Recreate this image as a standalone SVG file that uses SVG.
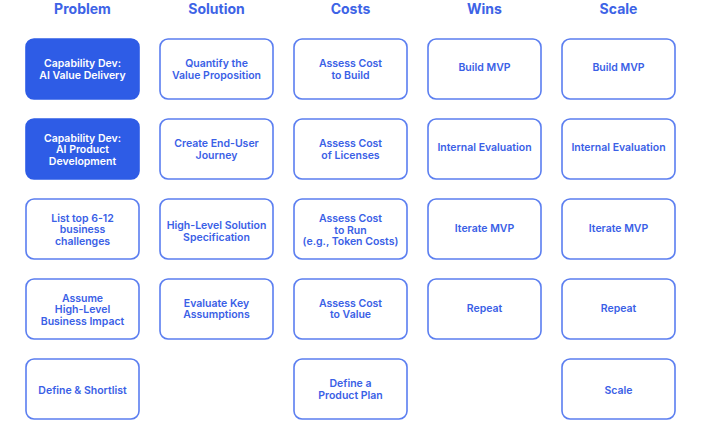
<svg xmlns="http://www.w3.org/2000/svg" width="701" height="445" viewBox="0 0 701 445">
<style>
.bg{fill:#ffffff}
.hd{font-family:Inter,"Liberation Sans",sans-serif;font-weight:700;font-size:14px;fill:#3d63e6;text-anchor:middle}
.box{fill:#ffffff;stroke:#5b7ef0;stroke-width:1.6}
.fill{fill:#2e5ce6;stroke:#2e5ce6;stroke-width:1.6}
.t{font-family:Inter,"Liberation Sans",sans-serif;font-weight:600;font-size:10.5px;fill:#3a60e6;text-anchor:middle}
.tw{font-family:Inter,"Liberation Sans",sans-serif;font-weight:600;font-size:10.5px;fill:#ffffff;text-anchor:middle}
</style>
<rect class="bg" x="0" y="0" width="701" height="445"/>
<g id="headers">
<text class="hd" x="82.5" y="13.5">Problem</text>
<text class="hd" x="216.5" y="13.5">Solution</text>
<text class="hd" x="350.5" y="13.5">Costs</text>
<text class="hd" x="484.5" y="13.5">Wins</text>
<text class="hd" x="618.5" y="13.5">Scale</text>
</g>
<g id="connectors"></g>
<!-- Problem -->
<g id="p1"><rect class="fill" x="26" y="39" width="113" height="60" rx="8"/><text class="tw" x="82.5" y="67">Capability Dev:<tspan x="82.5" dy="11.7">AI Value Delivery</tspan></text></g>
<g id="p2"><rect class="fill" x="26" y="119" width="113" height="60" rx="8"/><text class="tw" x="82.5" y="141.5">Capability Dev:<tspan x="82.5" dy="11.7">AI Product</tspan><tspan x="82.5" dy="11.7">Development</tspan></text></g>
<g id="p3"><rect class="box" x="26" y="199" width="113" height="60" rx="8"/><text class="t" x="82.5" y="221.5">List top 6-12<tspan x="82.5" dy="11.7">business</tspan><tspan x="82.5" dy="11.7">challenges</tspan></text></g>
<g id="p4"><rect class="box" x="26" y="279" width="113" height="60" rx="8"/><text class="t" x="82.5" y="301.5">Assume<tspan x="82.5" dy="11.7">High-Level</tspan><tspan x="82.5" dy="11.7">Business Impact</tspan></text></g>
<g id="p5"><rect class="box" x="26" y="359" width="113" height="60" rx="8"/><text class="t" x="82.5" y="393.5">Define &amp; Shortlist</text></g>
<!-- Solution -->
<g id="s1"><rect class="box" x="160" y="39" width="113" height="60" rx="8"/><text class="t" x="216.5" y="67">Quantify the<tspan x="216.5" dy="11.7">Value Proposition</tspan></text></g>
<g id="s2"><rect class="box" x="160" y="119" width="113" height="60" rx="8"/><text class="t" x="216.5" y="147">Create End-User<tspan x="216.5" dy="11.7">Journey</tspan></text></g>
<g id="s3"><rect class="box" x="160" y="199" width="113" height="60" rx="8"/><text class="t" x="216.5" y="229">High-Level Solution<tspan x="216.5" dy="11.7">Specification</tspan></text></g>
<g id="s4"><rect class="box" x="160" y="279" width="113" height="60" rx="8"/><text class="t" x="216.5" y="306.5">Evaluate Key<tspan x="216.5" dy="11.7">Assumptions</tspan></text></g>
<!-- Costs -->
<g id="c1"><rect class="box" x="294" y="39" width="113" height="60" rx="8"/><text class="t" x="350.5" y="67">Assess Cost<tspan x="350.5" dy="11.7">to Build</tspan></text></g>
<g id="c2"><rect class="box" x="294" y="119" width="113" height="60" rx="8"/><text class="t" x="350.5" y="147">Assess Cost<tspan x="350.5" dy="11.7">of Licenses</tspan></text></g>
<g id="c3"><rect class="box" x="294" y="199" width="113" height="60" rx="8"/><text class="t" x="350.5" y="222">Assess Cost<tspan x="350.5" dy="11.7">to Run</tspan><tspan x="350.5" dy="11.7">(e.g., Token Costs)</tspan></text></g>
<g id="c4"><rect class="box" x="294" y="279" width="113" height="60" rx="8"/><text class="t" x="350.5" y="306.5">Assess Cost<tspan x="350.5" dy="11.7">to Value</tspan></text></g>
<g id="c5"><rect class="box" x="294" y="359" width="113" height="60" rx="8"/><text class="t" x="350.5" y="387">Define a<tspan x="350.5" dy="11.7">Product Plan</tspan></text></g>
<!-- Wins -->
<g id="w1"><rect class="box" x="428" y="39" width="113" height="60" rx="8"/><text class="t" x="484.5" y="71">Build MVP</text></g>
<g id="w2"><rect class="box" x="428" y="119" width="113" height="60" rx="8"/><text class="t" x="484.5" y="151">Internal Evaluation</text></g>
<g id="w3"><rect class="box" x="428" y="199" width="113" height="60" rx="8"/><text class="t" x="484.5" y="231.5">Iterate MVP</text></g>
<g id="w4"><rect class="box" x="428" y="279" width="113" height="60" rx="8"/><text class="t" x="484.5" y="311.5">Repeat</text></g>
<!-- Scale -->
<g id="sc1"><rect class="box" x="562" y="39" width="113" height="60" rx="8"/><text class="t" x="618.5" y="71">Build MVP</text></g>
<g id="sc2"><rect class="box" x="562" y="119" width="113" height="60" rx="8"/><text class="t" x="618.5" y="151">Internal Evaluation</text></g>
<g id="sc3"><rect class="box" x="562" y="199" width="113" height="60" rx="8"/><text class="t" x="618.5" y="231.5">Iterate MVP</text></g>
<g id="sc4"><rect class="box" x="562" y="279" width="113" height="60" rx="8"/><text class="t" x="618.5" y="311.5">Repeat</text></g>
<g id="sc5"><rect class="box" x="562" y="359" width="113" height="60" rx="8"/><text class="t" x="618.5" y="393.5">Scale</text></g>
</svg>
